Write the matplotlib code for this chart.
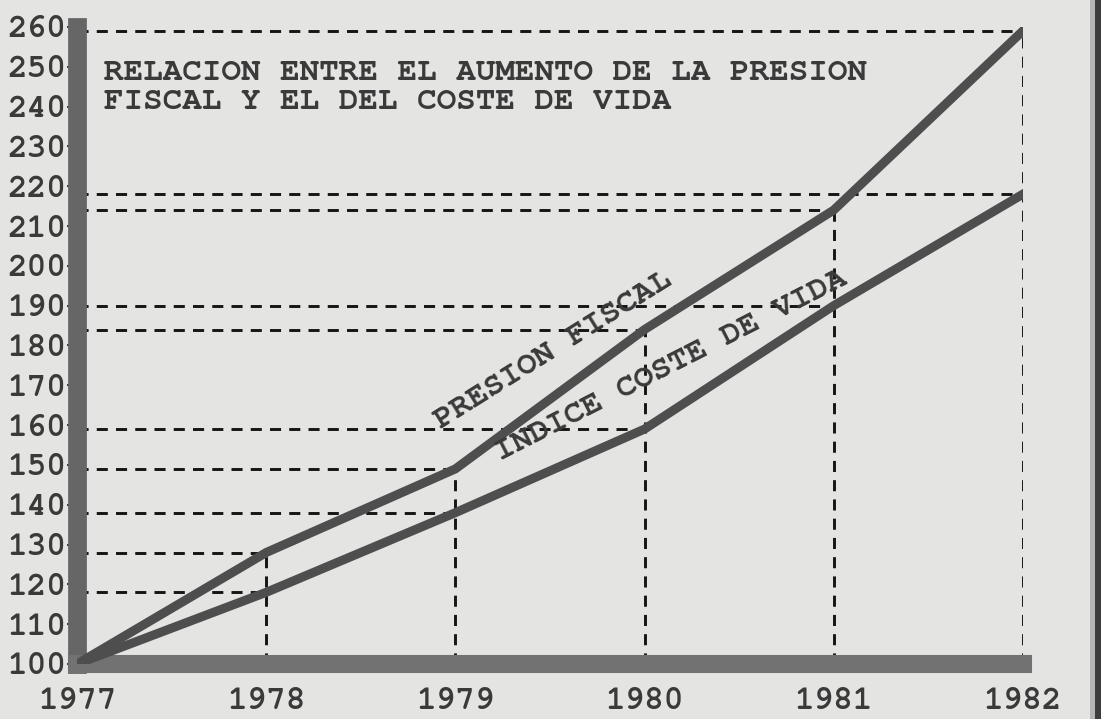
import numpy as np
import matplotlib
matplotlib.use('Agg')
import matplotlib.pyplot as plt
from matplotlib.patches import Rectangle

# datos
anios = [1977, 1978, 1979, 1980, 1981, 1982]
presion_fiscal = [100, 128, 149, 184, 214, 259]
coste_vida = [100, 118, 138, 159, 190, 218]
yticks = [100, 110, 120, 130, 140, 150, 160, 170, 180, 190, 200, 210, 220, 230, 240, 250, 260]

titulo = "RELACION ENTRE EL AUMENTO DE LA PRESION\nFISCAL Y EL DEL COSTE DE VIDA"
lab_presion = "PRESION FISCAL"
lab_coste = "INDICE COSTE DE VIDA"

fuente = ['Courier New', 'Nimbus Mono PS', 'FreeMono', 'Liberation Mono']
plt.rcParams['font.family'] = fuente
plt.rcParams['font.weight'] = 'bold'
carta = '#e4e4e2'
gris = '#4e4e4e'
tinta = '#3a3a3a'
tam = 23.5

fig = plt.figure(figsize=(11.01, 7.19), dpi=100)
fig.patch.set_facecolor(carta)
ax = fig.add_axes([0.070, 0.0765, 0.859, 0.886])
ax.set_facecolor(carta)

# lineas discontinuas de referencia
estilo = dict(color='#151515', linewidth=2.1, linestyle=(0, (3.8, 2.8)), zorder=1)
for x, yp, yc in zip(anios[1:], presion_fiscal[1:], coste_vida[1:]):
    ax.plot([anios[0], x], [yp, yp], **estilo)
    ax.plot([anios[0], x], [yc, yc], **estilo)
    ax.plot([x, x], [100, yp], **estilo)

# las dos series
ax.plot(anios, presion_fiscal, color=gris, linewidth=6.5, solid_joinstyle='round', zorder=3)
ax.plot(anios, coste_vida, color=gris, linewidth=6.5, solid_joinstyle='round', zorder=3)

ax.text(1979.52, 178.8, lab_presion, rotation=32, rotation_mode='anchor',
        ha='center', va='center', fontsize=tam, color=tinta, zorder=4)
ax.text(1980.14, 174.8, lab_coste, rotation=27, rotation_mode='anchor',
        ha='center', va='center', fontsize=tam, color=tinta, zorder=4)

ax.text(0.029, 0.95, titulo, transform=ax.transAxes, ha='left', va='top',
        fontsize=tam, color=tinta, linespacing=1.05)

ax.set_xlim(1977, 1982)
ax.set_ylim(100, 260)
ax.set_xticks(anios)
ax.set_xticklabels([str(a) for a in anios])
ax.set_yticks(yticks)
ax.set_yticklabels([str(v) for v in yticks])

for lado in ['top', 'right']:
    ax.spines[lado].set_visible(False)
ax.spines['left'].set_linewidth(13.5)
ax.spines['left'].set_color('#666666')
ax.spines['left'].set_capstyle('projecting')
ax.spines['bottom'].set_linewidth(13)
ax.spines['bottom'].set_color('#727272')
ax.spines['bottom'].set_capstyle('projecting')

ax.tick_params(axis='y', length=7, width=1.5, color=tinta, pad=1,
               labelsize=tam, labelcolor=tinta)
ax.tick_params(axis='x', length=6, width=1.5, color=tinta, pad=11,
               labelsize=tam, labelcolor=tinta)

# sombra del borde del escaneo
fig.patches.append(Rectangle((1090 / 1101, 0), 5 / 1101, 1, transform=fig.transFigure,
                             facecolor='#b5b5b5', edgecolor='none'))
fig.patches.append(Rectangle((1095 / 1101, 0), 6 / 1101, 1, transform=fig.transFigure,
                             facecolor='#3c3c3c', edgecolor='none'))

fig.savefig('out.png', dpi=100, facecolor=carta)
